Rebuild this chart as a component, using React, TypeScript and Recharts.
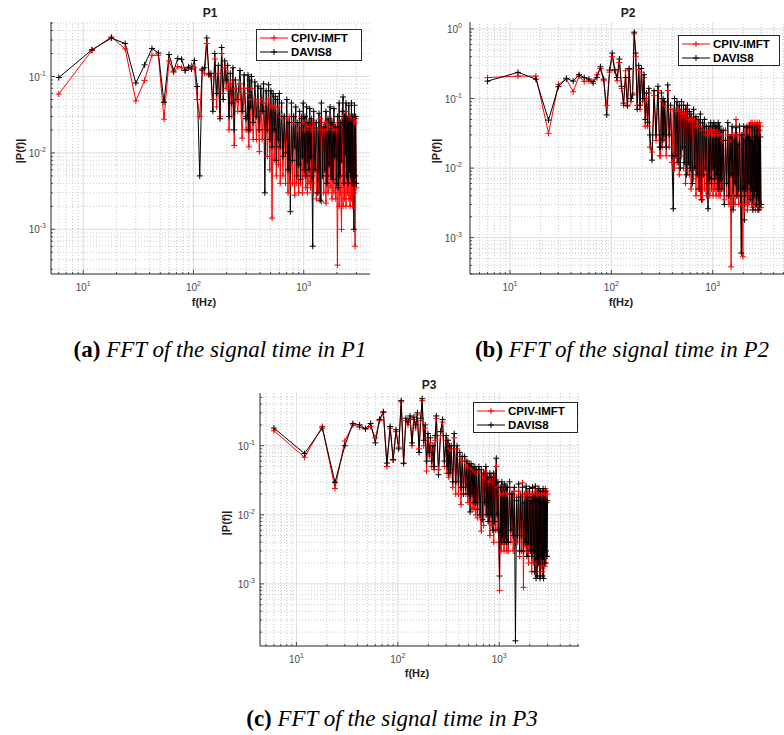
import React from "react";
import { LineChart, Line, XAxis, YAxis, ReferenceLine } from "recharts";

// frequency bins (Hz), shared by the three probes
const FREQ = [
  6, 12, 18, 24, 30, 36, 42, 48, 54, 60, 66, 72, 78, 84, 90, 96, 102, 108, 114, 120, 126, 132, 138, 144, 150,
  156, 162, 168, 174, 180, 186, 192, 198, 204, 210, 216, 222, 228, 234, 240, 252, 264, 276, 288, 300,
  306, 312, 318, 324, 330, 336, 348, 360, 372, 384, 396, 408, 420, 432, 444, 456, 468, 480, 492, 504, 516, 528,
  540, 552, 564, 576, 588, 600,
  612, 630, 648, 666, 684, 702, 720, 738, 756, 774, 792, 810, 828, 846, 864, 882, 900, 918, 936, 954, 972, 990,
  1008, 1026, 1044, 1062, 1080, 1098, 1116, 1134, 1152, 1170, 1188, 1206,
  1230, 1266, 1302, 1338, 1374, 1410, 1446, 1482, 1518, 1554, 1590, 1626, 1662, 1698, 1734, 1770, 1806, 1842,
  1878, 1914, 1950, 1986, 2022, 2058, 2094, 2130, 2166, 2202, 2238, 2274, 2310, 2346, 2382, 2418, 2454, 2490,
  2526, 2562, 2598, 2634, 2670, 2706, 2742, 2778, 2814, 2850, 2886, 2922, 2958, 2994,
];

const P1_CPIV = [
  0.059, 0.22, 0.33, 0.23, 0.048, 0.089, 0.19, 0.19, 0.0276, 0.16, 0.114, 0.135, 0.13, 0.12, 0.13, 0.14, 0.13, 0.05, 0.03, 0.12, 0.11, 0.27, 0.11, 0.1, 0.05,
  0.17, 0.04, 0.11, 0.03, 0.2, 0.06, 0.13, 0.07, 0.11, 0.02, 0.08, 0.03, 0.09, 0.0125, 0.07, 0.035, 0.08, 0.0156, 0.07, 0.02,
  0.02, 0.06, 0.012, 0.05, 0.02, 0.07, 0.015, 0.05, 0.015, 0.045, 0.0104, 0.05, 0.015, 0.045, 0.02, 0.045, 0.009, 0.05, 0.006, 0.04, 0.0014, 0.04,
  0.008, 0.04, 0.005, 0.035, 0.007, 0.04,
  0.004, 0.03, 0.005, 0.03, 0.004, 0.028, 0.003, 0.03, 0.004, 0.025, 0.004, 0.03, 0.0028, 0.025, 0.004, 0.02, 0.003, 0.025,
  0.004, 0.03, 0.003, 0.025, 0.005, 0.02, 0.0035, 0.025, 0.003, 0.022, 0.004, 0.025, 0.0035, 0.02, 0.004, 0.025,
  0.003, 0.025, 0.0025, 0.02, 0.003, 0.028, 0.0023, 0.02, 0.003, 0.025, 0.0022, 0.02, 0.003, 0.022, 0.0035, 0.028, 0.0025, 0.02,
  0.003, 0.022, 0.0025, 0.02, 0.00034, 0.025, 0.002, 0.025, 0.003, 0.001, 0.03, 0.002, 0.03, 0.0025, 0.035, 0.002, 0.03, 0.003,
  0.028, 0.0025, 0.03, 0.002, 0.03, 0.0025, 0.028, 0.002, 0.03, 0.003, 0.025, 0.0006, 0.028, 0.0035,
];
const P1_DAVIS = [
  0.097, 0.224, 0.318, 0.27, 0.082, 0.142, 0.233, 0.203, 0.046, 0.194, 0.118, 0.172, 0.168, 0.12, 0.133, 0.125, 0.162, 0.074, 0.005, 0.125, 0.13, 0.32, 0.105, 0.11, 0.035,
  0.2, 0.06, 0.14, 0.028, 0.24, 0.05, 0.16, 0.09, 0.14, 0.03, 0.11, 0.045, 0.13, 0.02, 0.09, 0.05, 0.12, 0.035, 0.105, 0.028,
  0.03, 0.105, 0.02, 0.09, 0.04, 0.1, 0.025, 0.085, 0.03, 0.075, 0.02, 0.07, 0.035, 0.08, 0.003, 0.065, 0.02, 0.078, 0.015, 0.065, 0.012, 0.06,
  0.02, 0.055, 0.008, 0.05, 0.015, 0.06,
  0.012, 0.045, 0.009, 0.03, 0.01, 0.05, 0.006, 0.025, 0.0017, 0.045, 0.008, 0.03, 0.012, 0.04, 0.005, 0.025, 0.007, 0.035,
  0.0045, 0.028, 0.009, 0.045, 0.006, 0.03, 0.005, 0.04, 0.008, 0.025, 0.006, 0.038, 0.009, 0.028, 0.005, 0.0006,
  0.035, 0.006, 0.025, 0.003, 0.033, 0.0024, 0.045, 0.005, 0.022, 0.006, 0.035, 0.004, 0.028, 0.007, 0.04, 0.005, 0.025, 0.0045,
  0.038, 0.009, 0.022, 0.004, 0.03, 0.0035, 0.045, 0.005, 0.025, 0.008, 0.035, 0.054, 0.004, 0.03, 0.01, 0.045, 0.005, 0.028,
  0.004, 0.042, 0.006, 0.025, 0.005, 0.045, 0.004, 0.03, 0.008, 0.001, 0.042, 0.005, 0.03, 0.004,
];

const P2_CPIV = [
  0.2, 0.21, 0.21, 0.0316, 0.16, 0.19, 0.125, 0.21, 0.175, 0.18, 0.165, 0.22, 0.27, 0.18, 0.08, 0.24, 0.4, 0.25, 0.18, 0.33, 0.14, 0.08, 0.25, 0.078, 0.26,
  0.09, 0.12, 0.85, 0.4, 0.08, 0.26, 0.07, 0.24, 0.09, 0.2, 0.04, 0.1, 0.04, 0.12, 0.02, 0.017, 0.11, 0.025, 0.13, 0.015,
  0.015, 0.1, 0.02, 0.09, 0.025, 0.08, 0.015, 0.13, 0.02, 0.07, 0.012, 0.07, 0.01, 0.065, 0.012, 0.07, 0.008, 0.065, 0.015, 0.06, 0.01, 0.06,
  0.006, 0.07, 0.009, 0.05, 0.008, 0.05,
  0.005, 0.05, 0.007, 0.05, 0.004, 0.04, 0.005, 0.045, 0.004, 0.035, 0.0035, 0.04, 0.005, 0.03, 0.004, 0.035, 0.006, 0.03,
  0.004, 0.035, 0.005, 0.03, 0.004, 0.035, 0.005, 0.03, 0.004, 0.035, 0.005, 0.03, 0.004, 0.035, 0.004, 0.03,
  0.005, 0.025, 0.0035, 0.035, 0.004, 0.03, 0.003, 0.025, 0.00038, 0.03, 0.004, 0.03, 0.003, 0.05, 0.004, 0.03, 0.003, 0.03,
  0.004, 0.03, 0.003, 0.00053, 0.03, 0.0025, 0.035, 0.003, 0.04, 0.0025, 0.04, 0.003, 0.04, 0.004, 0.045, 0.003, 0.045, 0.0027,
  0.04, 0.003, 0.045, 0.0025, 0.042, 0.003, 0.045, 0.0025, 0.04, 0.003, 0.045, 0.0027, 0.04, 0.0027,
];
const P2_DAVIS = [
  0.178, 0.238, 0.19, 0.049, 0.148, 0.195, 0.178, 0.22, 0.2, 0.19, 0.175, 0.2, 0.286, 0.19, 0.058, 0.256, 0.45, 0.26, 0.2, 0.37, 0.15, 0.086, 0.2, 0.08, 0.27,
  0.1, 0.113, 0.9, 0.45, 0.07, 0.3, 0.08, 0.27, 0.1, 0.22, 0.05, 0.12, 0.045, 0.14, 0.03, 0.013, 0.13, 0.03, 0.15, 0.02,
  0.02, 0.12, 0.025, 0.1, 0.03, 0.09, 0.02, 0.157, 0.03, 0.08, 0.015, 0.0026, 0.1, 0.015, 0.09, 0.012, 0.08, 0.01, 0.09, 0.02, 0.08, 0.012,
  0.07, 0.008, 0.08, 0.012, 0.065, 0.01,
  0.06, 0.006, 0.07, 0.01, 0.055, 0.008, 0.05, 0.005, 0.06, 0.0035, 0.045, 0.008, 0.05, 0.01, 0.04, 0.006, 0.0026, 0.04,
  0.007, 0.045, 0.006, 0.04, 0.01, 0.045, 0.007, 0.04, 0.008, 0.04, 0.006, 0.045, 0.005, 0.04, 0.007, 0.035,
  0.005, 0.035, 0.003, 0.025, 0.006, 0.045, 0.004, 0.028, 0.008, 0.04, 0.0025, 0.025, 0.006, 0.038, 0.004, 0.022, 0.005, 0.04,
  0.004, 0.0006, 0.03, 0.005, 0.04, 0.0018, 0.025, 0.005, 0.038, 0.004, 0.028, 0.006, 0.04, 0.0035, 0.025, 0.005, 0.038, 0.0025,
  0.022, 0.004, 0.035, 0.005, 0.028, 0.003, 0.04, 0.004, 0.025, 0.0025, 0.035, 0.003, 0.028, 0.003,
];

const P3_CPIV = [
  0.165, 0.068, 0.19, 0.024, 0.117, 0.2, 0.185, 0.175, 0.19, 0.13, 0.23, 0.3, 0.05, 0.18, 0.062, 0.16, 0.095, 0.43, 0.055, 0.23, 0.2, 0.25, 0.1, 0.24, 0.18,
  0.28, 0.09, 0.23, 0.45, 0.1, 0.18, 0.043, 0.13, 0.07, 0.11, 0.05, 0.09, 0.045, 0.12, 0.25, 0.045, 0.14, 0.22, 0.05, 0.12,
  0.04, 0.1, 0.035, 0.09, 0.04, 0.09, 0.025, 0.13, 0.02, 0.09, 0.02, 0.07, 0.014, 0.06, 0.02, 0.06, 0.02, 0.05, 0.015, 0.05, 0.015, 0.05,
  0.012, 0.045, 0.012, 0.045, 0.01, 0.04,
  0.009, 0.045, 0.01, 0.0058, 0.035, 0.007, 0.04, 0.01, 0.04, 0.008, 0.03, 0.005, 0.035, 0.007, 0.03, 0.004, 0.035, 0.006,
  0.05, 0.006, 0.025, 0.004, 0.0008, 0.02, 0.003, 0.025, 0.004, 0.02, 0.003, 0.025, 0.004, 0.02, 0.003, 0.02,
  0.003, 0.025, 0.004, 0.02, 0.003, 0.022, 0.003, 0.018, 0.004, 0.022, 0.0025, 0.02, 0.003, 0.029, 0.00089, 0.02, 0.0035, 0.02,
  0.003, 0.022, 0.002, 0.018, 0.003, 0.02, 0.0015, 0.025, 0.002, 0.02, 0.0015, 0.024, 0.002, 0.022, 0.0015, 0.02, 0.002, 0.024,
  0.0013, 0.022, 0.0018, 0.02, 0.0015, 0.022, 0.002, 0.02, 0.0018, 0.024, 0.002, 0.022, 0.0025, 0.02,
];
const P3_DAVIS = [
  0.18, 0.077, 0.18, 0.0295, 0.1, 0.21, 0.2, 0.176, 0.21, 0.11, 0.24, 0.31, 0.056, 0.19, 0.063, 0.17, 0.09, 0.45, 0.056, 0.25, 0.22, 0.27, 0.11, 0.26, 0.2,
  0.3, 0.08, 0.25, 0.48, 0.12, 0.2, 0.06, 0.15, 0.08, 0.13, 0.06, 0.1, 0.05, 0.14, 0.27, 0.038, 0.16, 0.24, 0.06, 0.14,
  0.05, 0.12, 0.04, 0.1, 0.045, 0.1, 0.03, 0.15, 0.03, 0.1, 0.03, 0.08, 0.025, 0.07, 0.02, 0.07, 0.025, 0.06, 0.02, 0.055, 0.011, 0.055,
  0.02, 0.05, 0.015, 0.05, 0.015, 0.045,
  0.012, 0.05, 0.01, 0.045, 0.0085, 0.04, 0.015, 0.05, 0.01, 0.035, 0.008, 0.04, 0.01, 0.035, 0.006, 0.04, 0.008, 0.03,
  0.066, 0.01, 0.03, 0.006, 0.0013, 0.025, 0.004, 0.03, 0.005, 0.025, 0.004, 0.028, 0.005, 0.025, 0.004, 0.025,
  0.004, 0.03, 0.006, 0.02, 0.005, 0.025, 0.00015, 0.016, 0.005, 0.028, 0.003, 0.018, 0.005, 0.025, 0.003, 0.015, 0.004, 0.026,
  0.0025, 0.018, 0.004, 0.024, 0.003, 0.016, 0.0025, 0.025, 0.003, 0.018, 0.0015, 0.026, 0.0012, 0.016, 0.0013, 0.024, 0.002, 0.017,
  0.0012, 0.022, 0.0025, 0.015, 0.0013, 0.024, 0.0012, 0.017, 0.002, 0.022, 0.003, 0.015, 0.0025, 0.016,
];

const SERIES = ["CPIV-IMFT", "DAVIS8"];
const COLORS = ["#ff0000", "#000000"];
const DECADES = [-4, -3, -2, -1, 0, 1, 2, 3, 4];
const MULTS = [1, 2, 3, 4, 5, 6, 7, 8, 9];

const SANS = '"Liberation Sans", Arial, Helvetica, sans-serif';
const SERIF = '"Liberation Serif", "Times New Roman", serif';
const AXIS = "#262626";
const YW = 40;
const XH = 30;

const PANELS = [
  {
    name: "P1", cpiv: P1_CPIV, davis: P1_DAVIS,
    box: { left: 0, top: 0, width: 400, height: 320 },
    margin: { top: 22, right: 30, bottom: 16, left: 11 },
    xDomain: [5.1, 3990], yDomain: [0.00026, 0.517], yGap: 5,
    title: [210, 13], xLabel: [204, 302], yLabel: [20, 151],
    legend: { x: 256, y: 29, w: 106, h: 32 },
  },
  {
    name: "P2", cpiv: P2_CPIV, davis: P2_DAVIS,
    box: { left: 400, top: 0, width: 384, height: 320 },
    margin: { top: 22, right: 0, bottom: 16, left: 30 },
    xDomain: [4.03, 5050], yDomain: [0.0003, 1.26], yGap: 8,
    title: [628, 13], xLabel: [621, 302], yLabel: [436, 151],
    legend: { x: 678, y: 35, w: 102, h: 31 },
  },
  {
    name: "P3", cpiv: P3_CPIV, davis: P3_DAVIS,
    box: { left: 200, top: 360, width: 400, height: 320 },
    margin: { top: 33, right: 21, bottom: 4, left: 20 },
    xDomain: [4.37, 6125], yDomain: [0.000126, 0.58], yGap: 5,
    title: [429, 385], xLabel: [417, 673], yLabel: [226, 523],
    legend: { x: 473, y: 402, w: 105, h: 31 },
  },
];

const CAPTIONS = [
  { tag: "(a)", text: "FFT of the signal time in P1", cx: 220, cy: 349 },
  { tag: "(b)", text: "FFT of the signal time in P2", cx: 622, cy: 349 },
  { tag: "(c)", text: "FFT of the signal time in P3", cx: 392, cy: 718 },
];

function logTicks(domain: number[]) {
  const out: number[] = [];
  DECADES.forEach((e) =>
    MULTS.forEach((m) => {
      const v = m * Math.pow(10, e);
      if (v >= domain[0] && v <= domain[1]) out.push(v);
    })
  );
  return out;
}

const isMajor = (v: number) => Math.abs(Math.log10(v) - Math.round(Math.log10(v))) < 1e-6;

function XTick({ x, y, payload }: any) {
  const v = payload.value;
  const major = isMajor(v);
  return (
    <g>
      <line x1={x} x2={x} y1={y} y2={y - (major ? 4 : 2)} stroke={AXIS} strokeWidth={0.8} />
      {major && (
        <text x={x} y={y + 17} textAnchor="middle" fontSize={10} fill="#4a4a4a" fontFamily={SANS}>
          10<tspan dy={-5} fontSize={7}>{Math.round(Math.log10(v))}</tspan>
        </text>
      )}
    </g>
  );
}

function YTick({ x, y, payload, gap }: any) {
  const v = payload.value;
  const major = isMajor(v);
  return (
    <g>
      <line x1={x} x2={x + (major ? 4 : 2)} y1={y} y2={y} stroke={AXIS} strokeWidth={0.8} />
      {major && (
        <text x={x - gap} y={y + 4} textAnchor="end" fontSize={10} fill="#4a4a4a" fontFamily={SANS}>
          10<tspan dy={-5} fontSize={7}>{Math.round(Math.log10(v))}</tspan>
        </text>
      )}
    </g>
  );
}

function Plus({ cx, cy, color }: any) {
  if (cx == null || cy == null) return null;
  return (
    <path d={`M${cx - 3},${cy}H${cx + 3}M${cx},${cy - 3}V${cy + 3}`} stroke={color} strokeWidth={1} fill="none" />
  );
}

function Panel({ cfg }: any) {
  const data = FREQ.map((f, i) => ({ f, cpiv: cfg.cpiv[i], davis: cfg.davis[i] }));
  const xTicks = logTicks(cfg.xDomain);
  const yTicks = logTicks(cfg.yDomain);
  return (
    <div style={{ position: "absolute", left: cfg.box.left, top: cfg.box.top }}>
      <LineChart width={cfg.box.width} height={cfg.box.height} data={data} margin={cfg.margin}>
        {yTicks.map((v) => (
          <ReferenceLine
            key={`gy${v}`} y={v} zIndex={-50}
            stroke={isMajor(v) ? "#dcdcdc" : "#c9c9c9"}
            strokeDasharray={isMajor(v) ? undefined : "1 2"}
          />
        ))}
        {xTicks.map((v) => (
          <ReferenceLine
            key={`gx${v}`} x={v} zIndex={-50}
            stroke={isMajor(v) ? "#dcdcdc" : "#c9c9c9"}
            strokeDasharray={isMajor(v) ? undefined : "1 2"}
          />
        ))}
        <XAxis
          dataKey="f" type="number" scale="log" domain={cfg.xDomain} allowDataOverflow
          ticks={xTicks} interval={0} height={XH} tickSize={0} tickMargin={0} tickLine={false}
          axisLine={{ stroke: AXIS }} tick={<XTick />}
        />
        <YAxis
          type="number" scale="log" domain={cfg.yDomain} allowDataOverflow
          ticks={yTicks} interval={0} width={YW} tickSize={0} tickMargin={0} tickLine={false}
          axisLine={{ stroke: AXIS }} tick={<YTick gap={cfg.yGap} />}
        />
        <Line
          dataKey="cpiv" name={SERIES[0]} stroke={COLORS[0]} strokeWidth={1} isAnimationActive={false}
          dot={(p: any) => <Plus key={`r${p.index}`} cx={p.cx} cy={p.cy} color={COLORS[0]} />}
        />
        <Line
          dataKey="davis" name={SERIES[1]} stroke={COLORS[1]} strokeWidth={1} isAnimationActive={false}
          dot={(p: any) => <Plus key={`k${p.index}`} cx={p.cx} cy={p.cy} color={COLORS[1]} />}
        />
      </LineChart>
    </div>
  );
}

function LegendBox({ x, y, w, h }: any) {
  return (
    <div
      style={{
        position: "absolute", left: x, top: y, width: w, height: h, boxSizing: "border-box",
        border: `1px solid ${AXIS}`, background: "#fff",
      }}
    >
      {SERIES.map((s, i) => (
        <div key={s} style={{ position: "absolute", left: 2, top: 1 + i * 14, height: 14, display: "flex", alignItems: "center" }}>
          <svg width={30} height={14} style={{ display: "block" }}>
            <line x1={1} x2={29} y1={7} y2={7} stroke={COLORS[i]} strokeWidth={1} />
            <path d="M12,7H18M15,4V10" stroke={COLORS[i]} strokeWidth={1} />
          </svg>
          <span style={{ marginLeft: 2, fontSize: 11.5, fontWeight: "bold", fontFamily: SANS, color: "#000", lineHeight: "14px" }}>
            {s}
          </span>
        </div>
      ))}
    </div>
  );
}

function Label({ x, y, children, rotate, size }: any) {
  return (
    <div
      style={{
        position: "absolute", left: x, top: y, transform: `translate(-50%, -50%)${rotate ? " rotate(-90deg)" : ""}`,
        fontFamily: SANS, fontWeight: "bold", fontSize: size, color: "#222", whiteSpace: "nowrap", lineHeight: 1,
      }}
    >
      {children}
    </div>
  );
}

export default function App() {
  return (
    <div style={{ position: "absolute", left: 0, top: 0, width: 784, height: 735, background: "#fff", overflow: "hidden" }}>
      {PANELS.map((p) => (
        <React.Fragment key={p.name}>
          <Panel cfg={p} />
          <LegendBox {...p.legend} />
          <Label x={p.title[0]} y={p.title[1]} size={12}>{p.name}</Label>
          <Label x={p.xLabel[0]} y={p.xLabel[1]} size={11}>f(Hz)</Label>
          <Label x={p.yLabel[0]} y={p.yLabel[1]} size={11} rotate>|P(f)|</Label>
        </React.Fragment>
      ))}
      {CAPTIONS.map((c) => (
        <div
          key={c.tag}
          style={{
            position: "absolute", left: c.cx, top: c.cy, transform: "translate(-50%, -50%)",
            fontFamily: SERIF, fontSize: 23, whiteSpace: "nowrap", lineHeight: 1, color: "#000",
          }}
        >
          <b>{c.tag}</b> <i>{c.text}</i>
        </div>
      ))}
    </div>
  );
}
